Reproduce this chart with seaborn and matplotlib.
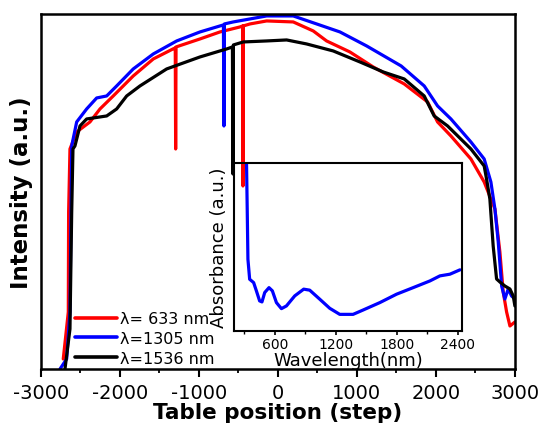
import pandas as pd
import numpy as np
import seaborn as sns
import matplotlib.pyplot as plt

# main scans: table position (step) vs intensity (a.u.)
red_step = [-2718, -2654, -2650, -2633, -2548, -2380, -2253, -2085, -1832, -1578, -1329, -1300,
            -1295, -1290, -987, -734, -481, -447, -443, -439, -354, -143, 194, 447, 616, 911,
            1206, 1599, 1895, 2021, 2190, 2443, 2611, 2696, 2747, 2810, 2852, 2895, 2937, 3000]
red_int = [10, 57, 157, 220, 237, 247, 260, 273, 293, 310, 320, 321,
           220, 322, 330, 337, 342, 343, 183, 343, 345, 348, 347, 338, 328, 317,
           302, 285, 267, 247, 233, 210, 187, 170, 160, 117, 77, 57, 43, 47]

blue_step = [-2759, -2675, -2633, -2611, -2548, -2422, -2295, -2168, -2042, -1832, -1578, -1282,
             -987, -734, -690, -684, -678, -566, -354, -143, 194, 490, 785, 1123, 1560, 1852,
             2021, 2190, 2443, 2611, 2696, 2747, 2789, 2832, 2873, 2915, 2958, 3000]
blue_int = [0, 10, 57, 223, 247, 260, 271, 273, 283, 300, 315, 328,
            337, 343, 344, 243, 345, 347, 350, 353, 353, 345, 337, 323, 303, 283,
            263, 250, 227, 210, 187, 160, 127, 83, 70, 80, 73, 70]

black_step = [-2696, -2633, -2611, -2595, -2570, -2506, -2422, -2253, -2168, -2042, -1915, -1747,
              -1409, -987, -734, -649, -576, -570, -564, -439, -143, 110, 363, 700, 1038, 1333,
              1599, 1852, 1978, 2148, 2443, 2611, 2641, 2683, 2725, 2768, 2810, 2873, 2937, 2979, 3000]
black_int = [0, 40, 157, 220, 223, 243, 250, 252, 253, 260, 273, 283,
             300, 312, 318, 320, 322, 195, 324, 327, 328, 329, 325, 318, 307, 297,
             290, 273, 253, 243, 220, 203, 190, 170, 123, 90, 87, 83, 80, 73, 63]

labels = ['λ= 633 nm', 'λ=1305 nm', 'λ=1536 nm']

# inset: absorbance spectrum
wavelength = [322, 330, 337, 354, 393, 420, 452, 475, 502, 544, 577, 617, 666, 715, 797, 885,
              944, 1043, 1141, 1239, 1370, 1469, 1633, 1797, 1960, 2125, 2223, 2321, 2420]
absorbance = [1.05, 0.726, 0.427, 0.308, 0.288, 0.239, 0.179, 0.173, 0.229, 0.258, 0.239,
              0.169, 0.133, 0.149, 0.209, 0.249, 0.243, 0.189, 0.135, 0.099, 0.099, 0.125,
              0.169, 0.219, 0.258, 0.298, 0.328, 0.338, 0.364]

sns.set_theme(style="ticks")
plt.rcParams['font.family'] = ['DejaVu Sans']
plt.rcParams['axes.unicode_minus'] = False
plt.rcParams['text.color'] = 'black'
plt.rcParams['axes.labelcolor'] = 'black'
plt.rcParams['xtick.color'] = 'black'
plt.rcParams['xtick.labelcolor'] = 'black'

fig = plt.figure(figsize=(5.42, 4.27), dpi=100)
ax = fig.add_axes([0.0756, 0.1335, 0.8744, 0.8315])

series = [(red_step, red_int, 'red'), (blue_step, blue_int, 'blue'), (black_step, black_int, 'black')]
for (xs, ys, c), lab in zip(series, labels):
    df = pd.DataFrame({'step': xs, 'intensity': ys})
    sns.lineplot(data=df, x='step', y='intensity', sort=False, estimator=None,
                 color=c, lw=2.3, label=lab, ax=ax)

ax.set_xlim(-3000, 3000)
ax.set_ylim(0, 355)
ax.set_xticks(np.arange(-3000, 3001, 1000))
ax.set_xticks(np.arange(-2500, 3000, 1000), minor=True)
ax.set_yticks([])
ax.tick_params(axis='x', which='major', direction='out', length=6, width=1.5,
               labelsize=14, pad=4, color='black', labelcolor='black')
ax.tick_params(axis='x', which='minor', direction='out', length=3, width=1.3, color='black')
for s in ax.spines.values():
    s.set_linewidth(1.8)
    s.set_color('black')
ax.set_xlabel('Table position (step)', fontsize=15.5, fontweight='bold', labelpad=0, color='black')
ax.set_ylabel('Intensity (a.u.)', fontsize=16.5, fontweight='bold', labelpad=6, color='black')

leg = ax.legend(loc='lower left', bbox_to_anchor=(0.065, 0.0), frameon=False,
                fontsize=11.5, handlelength=2.6, handletextpad=0.2, labelspacing=0.3,
                borderaxespad=0, borderpad=0.2)
for h in leg.get_lines():
    h.set_linewidth(2.6)
for t in leg.get_texts():
    t.set_color('black')

# inset
axi = fig.add_axes([0.4317, 0.2225, 0.4207, 0.3935])
axi.set_facecolor('none')
sns.lineplot(x=wavelength, y=absorbance, sort=False, estimator=None, color='blue', lw=2.3, ax=axi)
axi.set_xlim(200, 2440)
axi.set_ylim(0, 1)
axi.set_xticks([600, 1200, 1800, 2400])
axi.set_xticks([300, 900, 1500, 2100], minor=True)
axi.set_yticks([])
axi.tick_params(axis='x', which='major', direction='out', length=3, width=1.2,
                labelsize=10, pad=1, color='black', labelcolor='black')
axi.tick_params(axis='x', which='minor', direction='out', length=2, width=1, color='black')
for s in axi.spines.values():
    s.set_linewidth(1.5)
    s.set_color('black')
axi.set_xlabel('Wavelength(nm)', fontsize=13, labelpad=0, color='black')
axi.set_ylabel('Absorbance (a.u.)', fontsize=13, labelpad=4, color='black')

fig.savefig('out.png', dpi=100)
plt.close()
